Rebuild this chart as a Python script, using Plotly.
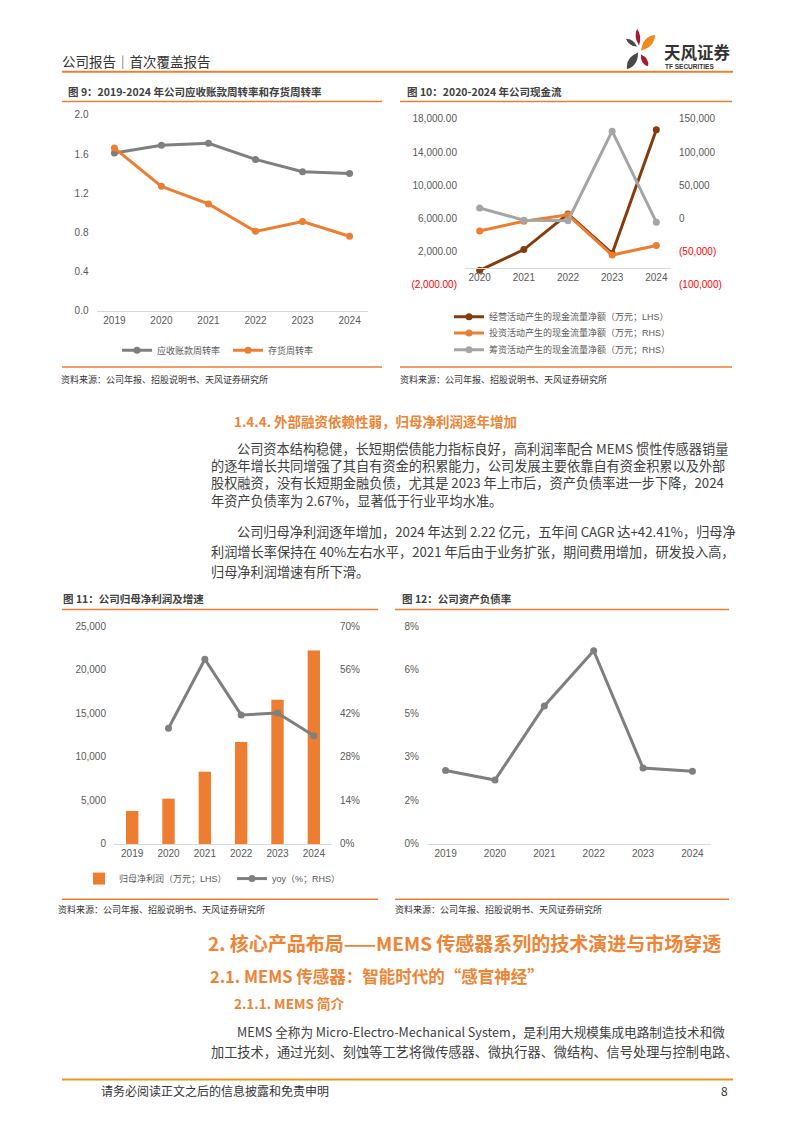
import plotly.graph_objects as go

W, H = 794, 1123


def fx(x):
    return x / W


def fy(y):
    return 1 - y / H


# ---------------- data ----------------
years9 = ['2019', '2020', '2021', '2022', '2023', '2024']
ar_turnover = [1.61, 1.69, 1.71, 1.545, 1.42, 1.40]
inv_turnover = [1.66, 1.27, 1.09, 0.81, 0.91, 0.76]
ticks9 = [0.0, 0.4, 0.8, 1.2, 1.6, 2.0]

years10 = ['2020', '2021', '2022', '2023', '2024']
op_cf = [-240, 2260, 6550, 1790, 16670]
inv_cf = [-18900, -4000, 5500, -55000, -40600]
fin_cf = [15900, -2500, -3400, 131400, -5500]
left10_ticks = [-2000, 2000, 6000, 10000, 14000, 18000]
left10_text = ['(2,000.00)', '2,000.00', '6,000.00', '10,000.00', '14,000.00', '18,000.00']
right10_ticks = [-100000, -50000, 0, 50000, 100000, 150000]
right10_text = ['(100,000)', '(50,000)', '0', '50,000', '100,000', '150,000']

years11 = ['2019', '2020', '2021', '2022', '2023', '2024']
net_profit = [3790, 5200, 8290, 11700, 16550, 22220]
yoy = [None, 37.2, 59.4, 41.5, 42.1, 34.8]
left11_ticks = [0, 5000, 10000, 15000, 20000, 25000]
right11_ticks = [0, 14, 28, 42, 56, 70]
right11_text = ['0%', '14%', '28%', '42%', '56%', '70%']

years12 = ['2019', '2020', '2021', '2022', '2023', '2024']
debt_ratio = [2.70, 2.35, 5.07, 7.10, 2.79, 2.67]
ticks12 = [0, 1.6, 3.2, 4.8, 6.4, 8.0]
ticks12_text = ['0%', '2%', '3%', '5%', '6%', '8%']

# ---------------- styles ----------------
ORANGE = '#ED7D31'
HEAD = '#EE8434'
GRAY = '#7F7F7F'
LGRAY = '#A5A5A5'
BROWN = '#843C0C'
TXT = '#404040'
RED = '#FF0000'
NUM = 'Liberation Sans, Arial, Noto Sans CJK SC, sans-serif'
CJK = 'Noto Sans CJK SC, Liberation Sans, sans-serif'
tickfont = dict(family=NUM, size=10, color='#595959')
legfont = dict(family=NUM, size=9, color='#595959')


def red(s):
    return '<span style="color:%s">%s</span>' % (RED, s)


fig = go.Figure()

# chart 9
fig.add_trace(go.Scatter(x=years9, y=ar_turnover, name='应收账款周转率', mode='lines+markers',
                         line=dict(color=GRAY, width=3), marker=dict(size=7, color=GRAY),
                         xaxis='x', yaxis='y', legend='legend'))
fig.add_trace(go.Scatter(x=years9, y=inv_turnover, name='存货周转率', mode='lines+markers',
                         line=dict(color=ORANGE, width=3), marker=dict(size=7, color=ORANGE),
                         xaxis='x', yaxis='y', legend='legend2'))

# chart 10
fig.add_trace(go.Scatter(x=years10, y=op_cf, name='经营活动产生的现金流量净额（万元；LHS）',
                         mode='lines+markers', line=dict(color=BROWN, width=3),
                         marker=dict(size=7, color=BROWN), xaxis='x2', yaxis='y2', legend='legend3'))
fig.add_trace(go.Scatter(x=years10, y=inv_cf, name='投资活动产生的现金流量净额（万元；RHS）',
                         mode='lines+markers', line=dict(color=ORANGE, width=3),
                         marker=dict(size=7, color=ORANGE), xaxis='x2', yaxis='y3', legend='legend4'))
fig.add_trace(go.Scatter(x=years10, y=fin_cf, name='筹资活动产生的现金流量净额（万元；RHS）',
                         mode='lines+markers', line=dict(color=LGRAY, width=3),
                         marker=dict(size=7, color=LGRAY), xaxis='x2', yaxis='y3', legend='legend5'))

# chart 11
fig.add_trace(go.Bar(x=years11, y=net_profit, name='归母净利润（万元；LHS）', width=0.34,
                     marker=dict(color=ORANGE, line=dict(width=0)), xaxis='x3', yaxis='y4',
                     legend='legend6'))
fig.add_trace(go.Scatter(x=years11, y=yoy, name='yoy（%；RHS）', mode='lines+markers',
                         line=dict(color=GRAY, width=3), marker=dict(size=7, color=GRAY),
                         xaxis='x3', yaxis='y5', legend='legend7'))

# chart 12
fig.add_trace(go.Scatter(x=years12, y=debt_ratio, name='资产负债率', mode='lines+markers',
                         line=dict(color=GRAY, width=3), marker=dict(size=7, color=GRAY),
                         xaxis='x4', yaxis='y6', showlegend=False))

xbase = dict(type='category', showline=True, linecolor='#D9D9D9', linewidth=1, showgrid=False,
             zeroline=False, ticks='', tickfont=tickfont, fixedrange=True)
ybase = dict(showgrid=False, zeroline=False, showline=False, ticks='', tickfont=tickfont,
             fixedrange=True, ticklabelstandoff=7)


def leg(x_text, y_mid):
    return dict(x=fx(x_text - 40), y=fy(y_mid), xanchor='left', yanchor='middle',
                bgcolor='rgba(0,0,0,0)', font=legfont, itemwidth=30, borderwidth=0)


fig.update_layout(
    width=W, height=H, margin=dict(l=0, r=0, t=0, b=0),
    paper_bgcolor='white', plot_bgcolor='white', showlegend=True,
    font=dict(family=CJK, color=TXT),
    xaxis=dict(xbase, domain=[fx(96.5), fx(367.5)], anchor='y'),
    yaxis=dict(ybase, domain=[fy(308), fy(110)], anchor='x', range=[0, 2], tickvals=ticks9,
               tickformat='.1f'),
    xaxis2=dict(xbase, domain=[fx(465), fx(671)], anchor='free', position=fy(265.2)),
    yaxis2=dict(ybase, domain=[fy(282), fy(114)], anchor='x2', range=[-2000, 18000],
                tickvals=left10_ticks,
                ticktext=[red(t) if v < 0 else t for v, t in zip(left10_ticks, left10_text)]),
    yaxis3=dict(ybase, overlaying='y2', side='right', anchor='x2', range=[-100000, 150000],
                tickvals=right10_ticks,
                ticktext=[red(t) if v < 0 else t for v, t in zip(right10_ticks, right10_text)]),
    xaxis3=dict(xbase, domain=[fx(114), fx(332)], anchor='y4'),
    yaxis4=dict(ybase, domain=[fy(847), fy(627)], anchor='x3', range=[0, 25000],
                tickvals=left11_ticks, tickformat=',d'),
    yaxis5=dict(ybase, overlaying='y4', side='right', anchor='x3', range=[0, 70],
                tickvals=right11_ticks, ticktext=right11_text),
    xaxis4=dict(xbase, domain=[fx(427), fx(711)], anchor='y6'),
    yaxis6=dict(ybase, domain=[fy(847), fy(627)], anchor='x4', range=[0, 8],
                tickvals=ticks12, ticktext=ticks12_text),
    legend=leg(157, 348),
    legend2=leg(268, 348),
    legend3=leg(489, 314),
    legend4=leg(489, 330.5),
    legend5=leg(489, 347.5),
    legend6=leg(119, 882),
    legend7=leg(272, 882),
)

# ---------------- shapes ----------------
shapes = []


def hline(x0, x1, y, color=ORANGE, w=1.5):
    shapes.append(dict(type='line', xref='paper', yref='paper', x0=fx(x0), x1=fx(x1),
                       y0=fy(y), y1=fy(y), line=dict(color=color, width=w)))


hline(62, 733, 66.5, '#EE7F2D', 2)
hline(62, 382, 96.5)
hline(62, 382, 365)
hline(400, 732, 96.5)
hline(400, 732, 365)
hline(62, 378, 610)
hline(62, 378, 903)
hline(395, 729, 610)
hline(395, 729, 903)
hline(62, 733, 1085, '#E8951E', 2)


def petal(base, tip, w, color):
    bx, by = base
    tx, ty = tip
    dx, dy = tx - bx, ty - by
    ln = (dx * dx + dy * dy) ** 0.5
    nx, ny = -dy / ln, dx / ln
    mx, my = bx + dx * 0.55, by + dy * 0.55
    c1 = (mx + nx * w, my + ny * w)
    c2 = (mx - nx * w, my - ny * w)
    p = 'M %f,%f Q %f,%f %f,%f Q %f,%f %f,%f Z' % (
        fx(bx), fy(by), fx(c1[0]), fy(c1[1]), fx(tx), fy(ty), fx(c2[0]), fy(c2[1]), fx(bx), fy(by))
    shapes.append(dict(type='path', xref='paper', yref='paper', path=p,
                       fillcolor=color, line=dict(width=0)))


petal((637, 41), (626, 33), 4.5, '#4A4A4A')
petal((639, 40), (637, 23), 4.5, '#A6192E')
petal((641, 45), (655, 29), 8, '#F08A1D')
petal((638, 47), (627, 64), 7.5, '#4A4A4A')
petal((641, 49), (648, 61), 5.5, '#A6192E')

fig.update_layout(shapes=shapes)

# ---------------- text ----------------
ann = []


def txt(x, y, s, size, color=TXT, bold=False, family=CJK, xanchor='left'):
    ann.append(dict(x=fx(x), y=fy(y), xref='paper', yref='paper',
                    text=('<b>%s</b>' % s) if bold else s, showarrow=False,
                    xanchor=xanchor, yanchor='middle', borderpad=0,
                    font=dict(size=size, color=color, family=family)))


txt(61, 56, '公司报告｜首次覆盖报告', 13.5, '#333333')
txt(663, 47, '天风证券', 16.5, '#333333', bold=True)
txt(664, 61, 'TF SECURITIES', 6.5, '#333333', bold=True, family=NUM)

txt(67, 86, '图 9：2019-2024 年公司应收账款周转率和存货周转率', 10.5, TXT, bold=True)
txt(406, 86, '图 10：2020-2024 年公司现金流', 10.5, TXT, bold=True)
txt(62, 599, '图 11：公司归母净利润及增速', 10.5, TXT, bold=True)
txt(401, 599, '图 12：公司资产负债率', 10.5, TXT, bold=True)

src = '资料来源：公司年报、招股说明书、天风证券研究所'
txt(60, 378, src, 9, '#333333')
txt(399, 378, src, 9, '#333333')
txt(57, 913, src, 9, '#333333')
txt(394, 913, src, 9, '#333333')

txt(233, 419, '1.4.4. 外部融资依赖性弱，归母净利润逐年增加', 13.5, HEAD, bold=True)
BS = 13.2
para = [
    (236, 447, '公司资本结构稳健，长短期偿债能力指标良好，高利润率配合 MEMS 惯性传感器销量'),
    (210, 464.5, '的逐年增长共同增强了其自有资金的积累能力，公司发展主要依靠自有资金积累以及外部'),
    (210, 482, '股权融资，没有长短期金融负债，尤其是 2023 年上市后，资产负债率进一步下降，2024'),
    (210, 499.5, '年资产负债率为 2.67%，显著低于行业平均水准。'),
    (236, 531.5, '公司归母净利润逐年增加，2024 年达到 2.22 亿元，五年间 CAGR 达+42.41%，归母净'),
    (210, 551.5, '利润增长率保持在 40%左右水平，2021 年后由于业务扩张，期间费用增加，研发投入高，'),
    (210, 571.5, '归母净利润增速有所下滑。'),
]
for x, y, s in para:
    txt(x, y, s, BS, TXT)

txt(207, 947, '2. 核心产品布局——MEMS 传感器系列的技术演进与市场穿透', 19, HEAD, bold=True)
txt(209, 980, '2.1. MEMS 传感器：智能时代的“感官神经”', 16.5, HEAD, bold=True)
txt(233, 1008, '2.1.1. MEMS 简介', 13.5, HEAD, bold=True)
txt(236, 1037, 'MEMS 全称为 Micro-Electro-Mechanical System，是利用大规模集成电路制造技术和微', 12.6, TXT)
txt(210, 1057, '加工技术，通过光刻、刻蚀等工艺将微传感器、微执行器、微结构、信号处理与控制电路、', BS, TXT)

txt(100, 1096, '请务必阅读正文之后的信息披露和免责申明', 12, '#333333')
txt(729, 1096, '8', 12, '#333333', xanchor='right')

fig.update_layout(annotations=ann)

fig.write_html('out.html',
               config={'displayModeBar': False, 'staticPlot': True},
               post_script="document.body.style.margin='0';document.body.style.padding='0';"
                           "document.body.style.overflow='hidden';")
